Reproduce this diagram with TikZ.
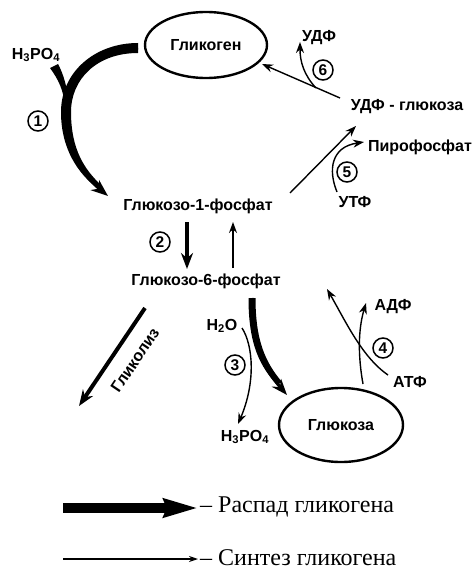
\documentclass[tikz,border=0pt]{standalone}
\usepackage{fontspec}
\setmainfont{Liberation Sans}
\newfontfamily\legendfont{Liberation Serif}
\usetikzlibrary{arrows.meta,shapes.geometric}
\begin{document}
\begin{tikzpicture}[x=1pt,y=-1pt,
  lbl/.style={font=\bfseries\fontsize{16}{19}\selectfont, inner sep=1pt},
  num/.style={draw, circle, line width=1.5pt, minimum size=20pt, inner sep=0pt, font=\bfseries\fontsize{15.5}{18}\selectfont},
  oval/.style={draw, ellipse, line width=2.4pt, inner sep=0pt, font=\bfseries\fontsize{16}{19}\selectfont},
  thinarr/.style={line width=1.4pt, -{Stealth[length=11pt,width=8pt]}},
  thickarr/.style={line width=4pt, -{Stealth[length=16pt,width=12pt]}},
  taper/.style={fill=black},
  legtext/.style={font=\legendfont\fontsize{24}{28}\selectfont, anchor=west, inner sep=0pt}
]
\useasboundingbox (0,0) rectangle (474,578);
\fill[white] (0,0) rectangle (474,578);

% nodes
\node[oval, minimum width=122pt, minimum height=66pt] (glik) at (206,45) {Гликоген};
\node[oval, minimum width=124pt, minimum height=74pt] (gluc) at (341,425) {Глюкоза};
\node[lbl] (h3a) at (36,55) {H\textsubscript{3}PO\textsubscript{4}};
\node[lbl] (g1p) at (198,206) {Глюкозо-1-фосфат};
\node[lbl] (g6p) at (206,281) {Глюкозо-6-фосфат};
\node[lbl] (h2o) at (222,326) {H\textsubscript{2}O};
\node[lbl] (h3b) at (245,437) {H\textsubscript{3}PO\textsubscript{4}};
\node[lbl] (adp) at (393,307) {АДФ};
\node[lbl] (atp) at (410,382) {АТФ};
\node[lbl] (udp) at (319,38) {УДФ};
\node[lbl] (udpg) at (407,107) {УДФ - глюкоза};
\node[lbl] (piro) at (420,147) {Пирофосфат};
\node[lbl] (utp) at (355,202) {УТФ};
\node[lbl, rotate=56] (glyc) at (135,360) {Гликолиз};

\node[num] (n1) at (38,121) {1};
\node[num] (n2) at (160,242) {2};
\node[num] (n3) at (235,365) {3};
\node[num] (n4) at (383,348) {4};
\node[num] (n5) at (347,172) {5};
\node[num] (n6) at (323,70) {6};

% coordinates
\coordinate (a1s) at (138,48);
\coordinate (a1e) at (108,196);
\coordinate (a2s) at (187,222);
\coordinate (a2e) at (187,269);
\coordinate (b2s) at (233,268);
\coordinate (b2e) at (233,222);
\coordinate (gls) at (145,308);
\coordinate (gle) at (79,406);
\coordinate (a3s) at (252,298);
\coordinate (a3e) at (287,395);
\coordinate (b3s) at (242,328);
\coordinate (b3e) at (238,424);
\coordinate (a4s) at (388,375);
\coordinate (a4e) at (327,289);
\coordinate (b4s) at (363,384);
\coordinate (b4e) at (366,303);
\coordinate (a5s) at (290,193);
\coordinate (a5e) at (356,126);
\coordinate (b5s) at (337,192);
\coordinate (b5e) at (364,142);
\coordinate (a6s) at (340,98);
\coordinate (a6e) at (262,64);
\coordinate (b6s) at (316,88);
\coordinate (b6e) at (300,42);

% 1: glycogen -> G1P (thick, tapered)
\fill[taper] (138,43) .. controls (95,43) and (61,72) .. (61,112)
  .. controls (61,150) and (79,174) .. (97,188) -- (101,185)
  .. controls (85,170) and (71,150) .. (71,112)
  .. controls (71,79) and (97,53) .. (138,53) -- cycle;
\fill[taper] (50,68) -- (58,64) .. controls (63,73) and (68,88) .. (69,108)
  -- (65,108) .. controls (64,90) and (58,79) .. (50,68) -- cycle;
\draw[line width=3pt, -{Stealth[length=17pt,width=13pt]}] (a1s) .. controls (95,48) and (66,75) .. (66,112)
  .. controls (66,152) and (84,176) .. (a1e);

% 2
\draw[thickarr] (a2s) -- (a2e);
\draw[thinarr] (b2s) -- (b2e);

% glycolysis
\draw[thickarr] (gls) -- (gle);

% 3
\fill[taper] (248.5,298) -- (255.5,298) .. controls (255.5,340) and (265,362) .. (282,382)
  -- (277,385) .. controls (260,366) and (248.5,345) .. (248.5,298) -- cycle;
\draw[line width=3pt, -{Stealth[length=16pt,width=12pt]}] (a3s) .. controls (252,345) and (262,366) .. (a3e);
\draw[thinarr] (b3s) .. controls (253,345) and (256,382) .. (b3e);

% 4
\draw[thinarr] (a4s) .. controls (362,357) and (346,322) .. (a4e);
\draw[thinarr] (b4s) .. controls (358,356) and (358,330) .. (b4e);

% 5
\draw[thinarr] (a5s) -- (a5e);
\draw[thinarr] (b5s) .. controls (328,170) and (331,147) .. (b5e);

% 6
\draw[thinarr] (a6s) -- (a6e);
\draw[thinarr] (b6s) .. controls (304,75) and (300,62) .. (b6e);

% legend
\coordinate (l1s) at (63,508);
\coordinate (l1e) at (198,508);
\coordinate (l2s) at (63,559);
\coordinate (l2e) at (198,559);
\draw[line width=10pt, -{Stealth[length=34pt,width=18pt,inset=3pt]}] (l1s) -- (l1e);
\draw[line width=1.2pt, -{Stealth[length=9pt,width=6pt]}] (l2s) -- (l2e);
\node[legtext] (leg1) at (200,507) {– Распад гликогена};
\node[legtext] (leg2) at (200,558) {– Синтез гликогена};
\end{tikzpicture}
\end{document}
